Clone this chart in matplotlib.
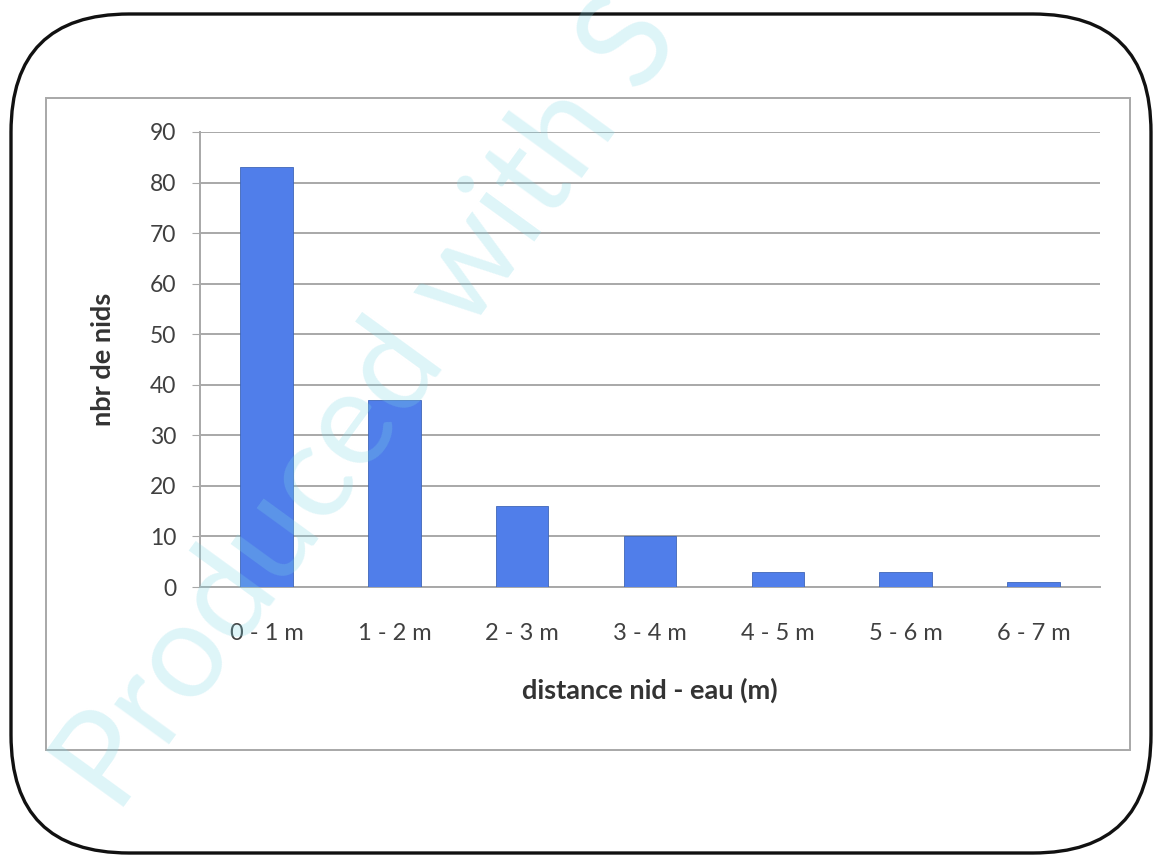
import matplotlib.pyplot as plt
from matplotlib.patches import FancyBboxPatch, Rectangle

plt.rcParams['font.family'] = ['Lato', 'DejaVu Sans']

categories = ["0 - 1 m", "1 - 2 m", "2 - 3 m", "3 - 4 m", "4 - 5 m", "5 - 6 m", "6 - 7 m"]
nests = [83, 37, 16, 10, 3, 3, 1]
yticks = [0, 10, 20, 30, 40, 50, 60, 70, 80, 90]

W, H = 1162, 855
fig = plt.figure(figsize=(W / 100, H / 100), dpi=100)

# background layer in pixel units for the frames
bg = fig.add_axes([0, 0, 1, 1])
bg.set_xlim(0, W)
bg.set_ylim(H, 0)
bg.axis("off")
bg.add_patch(FancyBboxPatch((11, 14), W - 22, H - 16,
                            boxstyle="round,pad=0,rounding_size=118",
                            fill=False, ec="#111111", lw=2.4))
bg.add_patch(Rectangle((46, 98), 1084, 652, fill=False, ec="#a8a8a8", lw=1.4))

# bar chart
ax = fig.add_axes([200 / W, 268 / H, 900 / W, 455 / H])
x = range(len(categories))
ax.bar(x, nests, width=0.41, color="#507EEA", edgecolor="#3f66b8", linewidth=0.6, zorder=3)
ax.set_xlim(-0.52, len(categories) - 0.48)
ax.set_ylim(0, 90)
ax.set_yticks(yticks)
ax.set_xticks(list(x))
ax.set_xticklabels(categories)
ax.yaxis.grid(True, color="#a8a8a8", lw=1.4, zorder=0)
for side in ["top", "right"]:
    ax.spines[side].set_visible(False)
ax.spines["left"].set_color("#a8a8a8")
ax.spines["bottom"].set_color("#a8a8a8")
ax.spines["left"].set_linewidth(1.4)
ax.spines["bottom"].set_linewidth(1.4)
ax.tick_params(axis="y", length=6, color="#a8a8a8", labelsize=16.5, labelcolor="#404040", pad=11)
ax.tick_params(axis="x", length=0, labelsize=17, labelcolor="#404040", pad=26)
ax.set_xlabel("distance nid - eau (m)", fontsize=19.5, fontweight="bold", color="#333333", labelpad=24)
ax.set_ylabel("nbr de nids", fontsize=19.5, fontweight="bold", color="#333333", labelpad=25)

# watermark on top
fig.text(0.032, 0.03, "Produced with S", fontsize=96, color="#7fd8e6", alpha=0.26,
         rotation=54, ha="left", va="bottom", zorder=10)

fig.savefig("out.png", dpi=100)
